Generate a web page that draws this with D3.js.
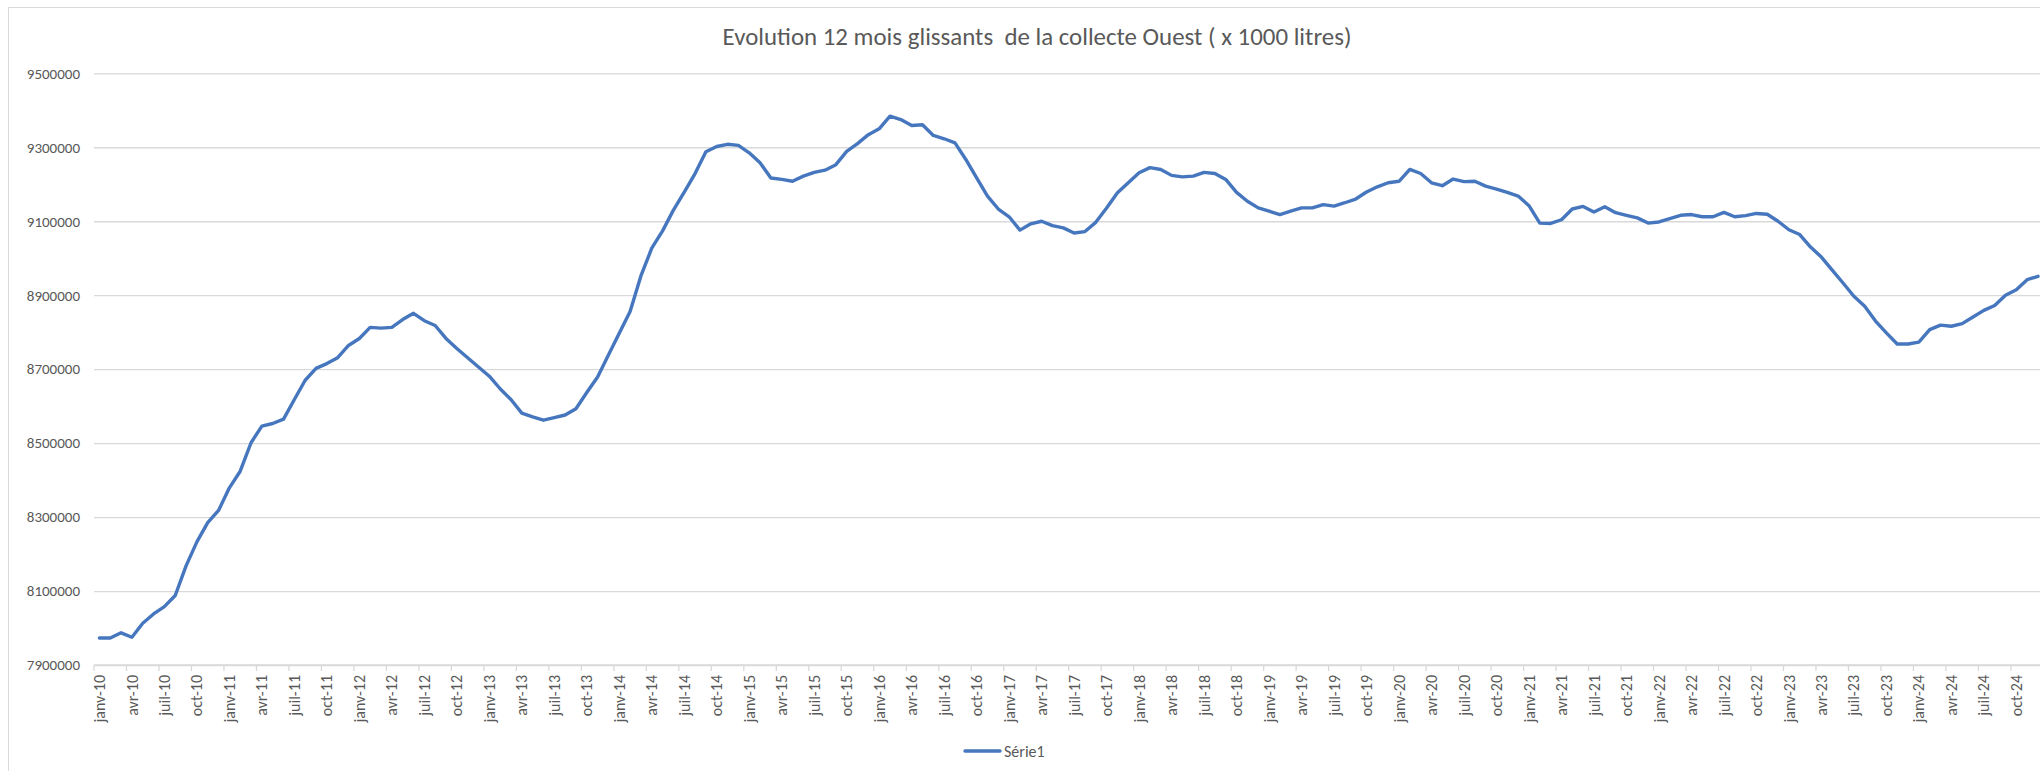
<!DOCTYPE html>
<html>
<head>
<meta charset="utf-8">
<script src="https://cdn.jsdelivr.net/npm/d3@7/dist/d3.min.js"></script>
<style>
  body { margin: 0; background: #fff; }
  text { font-family: Calibri, Carlito, Lato, sans-serif; fill: #595959; }
</style>
</head>
<body>
<div id="chart"></div>
<script>
// Data (12-month rolling collection, x 1000 litres)
const years = [10, 11, 12, 13, 14, 15, 16, 17, 18, 19, 20, 21, 22, 23, 24];
const monthNames = ['janv', 'févr', 'mars', 'avr', 'mai', 'juin', 'juil', 'août', 'sept', 'oct', 'nov', 'déc'];
const collecte = [
    7973000, 7973000, 7987000, 7975000, 8013000, 8038000, 8058000, 8088000, 8168000, 8233000, 8285000, 8318000,
    8379000, 8424000, 8501000, 8546000, 8553000, 8565000, 8618000, 8670000, 8702000, 8715000, 8731000, 8764000,
    8783000, 8813000, 8811000, 8813000, 8834000, 8851000, 8831000, 8818000, 8783000, 8756000, 8731000, 8706000,
    8681000, 8647000, 8618000, 8581000, 8571000, 8562000, 8569000, 8576000, 8593000, 8637000, 8679000, 8738000,
    8797000, 8856000, 8952000, 9027000, 9074000, 9130000, 9179000, 9229000, 9288000, 9302000, 9308000, 9305000,
    9285000, 9258000, 9217000, 9213000, 9208000, 9222000, 9232000, 9238000, 9253000, 9289000, 9310000, 9334000,
    9350000, 9384000, 9375000, 9359000, 9361000, 9332000, 9323000, 9312000, 9267000, 9217000, 9168000, 9133000,
    9112000, 9076000, 9093000, 9100000, 9088000, 9082000, 9068000, 9072000, 9097000, 9136000, 9177000, 9204000,
    9231000, 9245000, 9240000, 9224000, 9220000, 9222000, 9232000, 9229000, 9213000, 9178000, 9154000, 9136000,
    9127000, 9118000, 9127000, 9136000, 9136000, 9145000, 9141000, 9150000, 9160000, 9179000, 9193000, 9204000,
    9208000, 9240000, 9229000, 9204000, 9196000, 9214000, 9207000, 9208000, 9195000, 9187000, 9178000, 9168000,
    9142000, 9095000, 9094000, 9104000, 9133000, 9140000, 9125000, 9139000, 9123000, 9116000, 9109000, 9095000,
    9098000, 9107000, 9116000, 9118000, 9112000, 9112000, 9124000, 9112000, 9115000, 9121000, 9119000, 9100000,
    9077000, 9064000, 9030000, 9003000, 8968000, 8933000, 8897000, 8870000, 8830000, 8798000, 8768000, 8768000,
    8773000, 8807000, 8819000, 8816000, 8823000, 8841000, 8859000, 8872000, 8900000, 8915000, 8942000, 8951000
];
const yTicks = [7900000, 8100000, 8300000, 8500000, 8700000, 8900000, 9100000, 9300000, 9500000];
const title = 'Evolution 12 mois glissants  de la collecte Ouest ( x 1000 litres)';
const seriesName = 'Série1';

// Categories "janv-10", "févr-10", ...
const categories = [];
years.forEach(y => monthNames.forEach(m => categories.push(`${m}-${y}`)));
const data = collecte.map((v, i) => ({ cat: categories[i], value: v }));

const width = 2040;
const height = 771;
const margin = { top: 73.3, left: 94, bottom: 106 };
const plotRight = 2043.4;
const plotBottom = height - margin.bottom;

const svg = d3.select('#chart')
    .append('svg')
    .attr('width', width)
    .attr('height', height);

// Chart area border (cropped on the right and bottom)
svg.append('rect')
    .attr('x', 8.5)
    .attr('y', 7.5)
    .attr('width', 2100)
    .attr('height', 800)
    .attr('fill', '#fff')
    .attr('stroke', '#d9d9d9');

const x = d3.scaleBand()
    .domain(categories)
    .range([margin.left, plotRight]);

const y = d3.scaleLinear()
    .domain([yTicks[0], yTicks[yTicks.length - 1]])
    .range([plotBottom, margin.top]);

// Gridlines + y labels
const yAxis = svg.append('g')
    .attr('transform', `translate(${margin.left},0)`)
    .call(d3.axisLeft(y)
        .tickValues(yTicks)
        .tickSize(-(plotRight - margin.left) - 10)
        .tickPadding(14)
        .tickFormat(d3.format('d')));
yAxis.select('.domain').remove();
yAxis.selectAll('.tick line')
    .attr('stroke', '#d9d9d9')
    .attr('stroke-width', 1.3);
yAxis.selectAll('.tick text')
    .style('font-size', '15px')
    .attr('fill', '#595959');

// x axis: labels every 3 months, ticks on category boundaries
const quarterCats = categories.filter((c, i) => i % 3 === 0);
const xAxis = svg.append('g')
    .attr('transform', `translate(0,${plotBottom})`)
    .call(d3.axisBottom(x)
        .tickValues(quarterCats)
        .tickSize(0)
        .tickPadding(0));
xAxis.select('.domain').remove();
xAxis.selectAll('.tick text')
    .attr('transform', 'rotate(-90)')
    .attr('x', -10)
    .attr('y', 0)
    .attr('dy', '0.35em')
    .style('text-anchor', 'end')
    .style('font-size', '16px')
    .attr('fill', '#595959');

svg.append('line')
    .attr('x1', margin.left)
    .attr('x2', width + 10)
    .attr('y1', plotBottom)
    .attr('y2', plotBottom)
    .attr('stroke', '#d9d9d9')
    .attr('stroke-width', 1.3);

svg.append('g')
    .selectAll('line')
    .data(quarterCats)
    .join('line')
    .attr('x1', d => x(d))
    .attr('x2', d => x(d))
    .attr('y1', plotBottom)
    .attr('y2', plotBottom + 6)
    .attr('stroke', '#d9d9d9')
    .attr('stroke-width', 1.3);

// Series line
const line = d3.line()
    .x(d => x(d.cat) + x.bandwidth() / 2)
    .y(d => y(d.value));

svg.append('path')
    .datum(data)
    .attr('fill', 'none')
    .attr('stroke', '#4677be')
    .attr('stroke-width', 3.4)
    .attr('stroke-linejoin', 'round')
    .attr('stroke-linecap', 'round')
    .attr('d', line);

// Title
svg.append('text')
    .attr('x', 1037)
    .attr('y', 45)
    .style('text-anchor', 'middle')
    .style('font-size', '24.9px')
    .style('white-space', 'pre')
    .text(title);

// Legend
const legend = svg.append('g').attr('transform', 'translate(965,751)');
legend.append('line')
    .attr('x1', 0)
    .attr('x2', 35)
    .attr('stroke', '#4677be')
    .attr('stroke-width', 3.4)
    .attr('stroke-linecap', 'round');
legend.append('text')
    .attr('x', 39)
    .attr('dy', '0.35em')
    .style('font-size', '16px')
    .text(seriesName);
</script>
</body>
</html>
